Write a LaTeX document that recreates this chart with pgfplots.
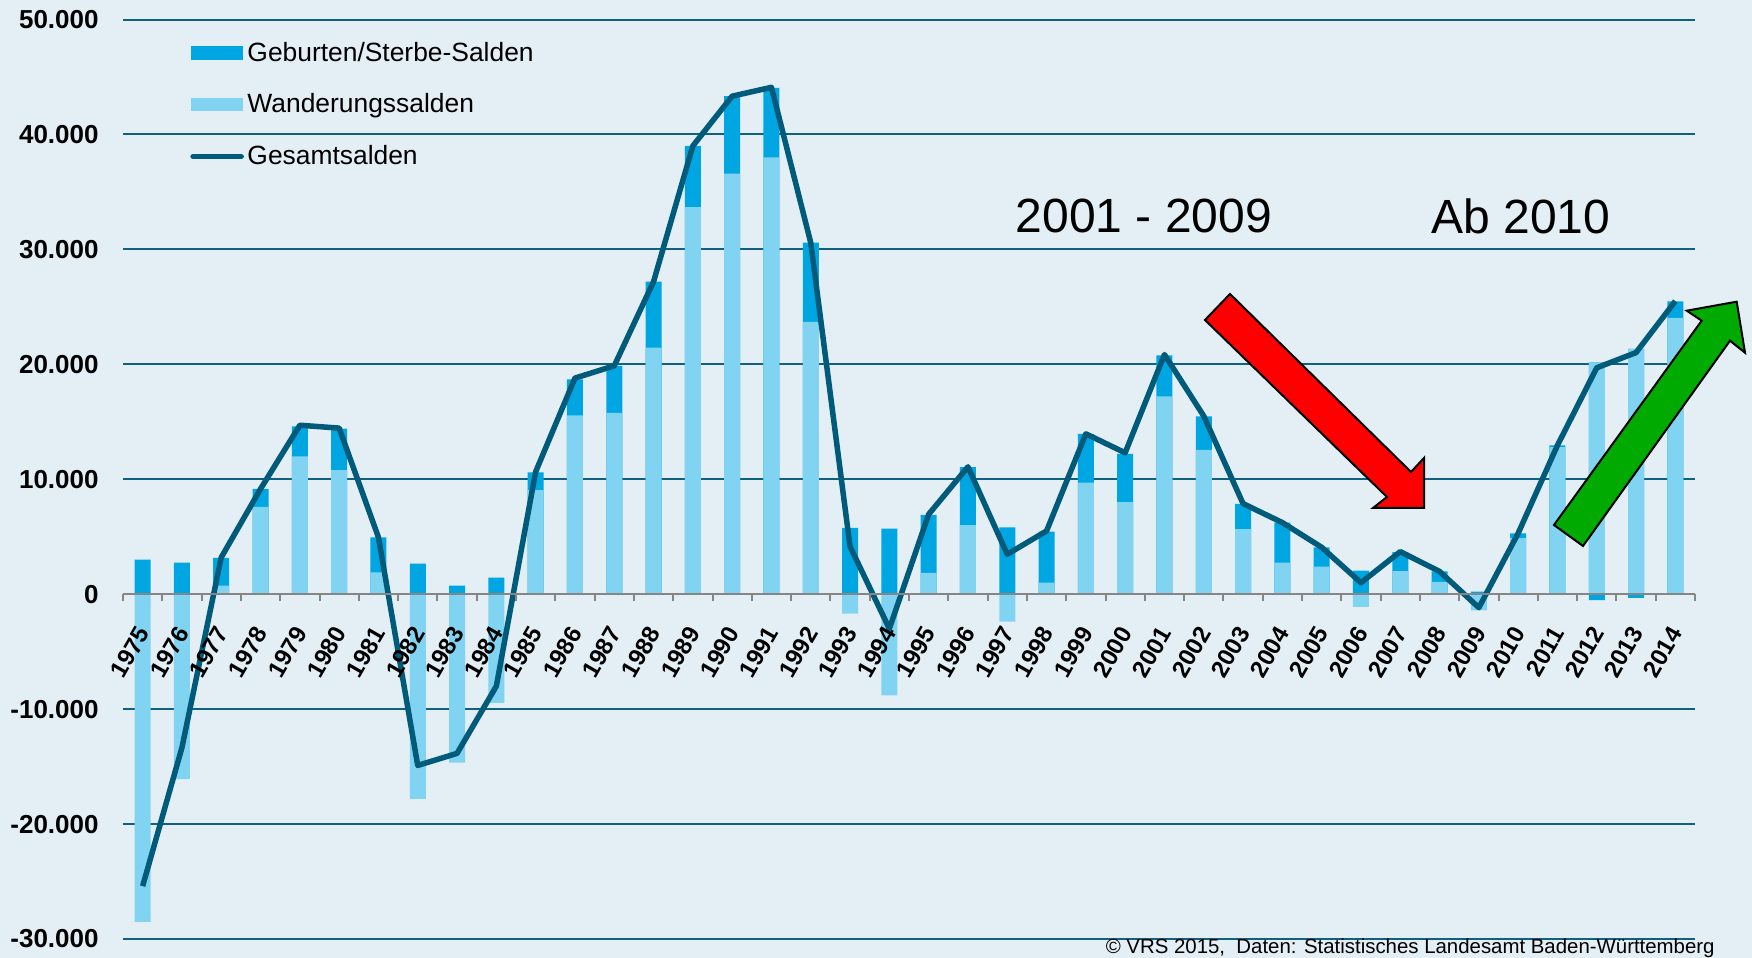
\documentclass[border=0pt]{standalone}
\usepackage{fontspec}
\setmainfont{Liberation Sans}
\usepackage{pgfplots}
\usepackage{pgfplotstable}
\pgfplotsset{compat=1.18}
\definecolor{bg}{RGB}{228,238,245}
\definecolor{gridc}{RGB}{16,96,128}
\definecolor{darkb}{RGB}{0,166,226}
\definecolor{lightb}{RGB}{128,212,242}
\definecolor{tot}{RGB}{0,90,122}
\definecolor{axgray}{RGB}{134,134,134}
\definecolor{arrgreen}{RGB}{0,170,0}

\pgfplotsset{
  layers/mylayers/.define layer set={axis background,axis grid,main,axis ticks,axis lines,axis tick labels,axis descriptions,axis foreground}{
    grid style={/pgfplots/on layer=axis grid},
    tick style={/pgfplots/on layer=axis ticks},
    axis line style={/pgfplots/on layer=axis lines},
    label style={/pgfplots/on layer=axis descriptions},
    legend style={/pgfplots/on layer=axis descriptions},
    title style={/pgfplots/on layer=axis descriptions},
    colorbar style={/pgfplots/on layer=axis descriptions},
    ticklabel style={/pgfplots/on layer=axis tick labels},
    axis background@ style={/pgfplots/on layer=axis background},
  },
}

\pgfplotstableread{
i year W G T
0 1975 -28500 3000 -25400
1 1976 -16100 2750 -13350
2 1977 750 2400 3200
3 1978 7600 1560 9160
4 1979 12000 2600 14700
5 1980 10800 3600 14450
6 1981 1900 3050 4950
7 1982 -17800 2650 -14900
8 1983 -14650 750 -13850
9 1984 -9450 1450 -8000
10 1985 9050 1550 10650
11 1986 15550 3150 18800
12 1987 15770 4100 19870
13 1988 21460 5730 27190
14 1989 33680 5320 39000
15 1990 36600 6730 43330
16 1991 38000 6060 44100
17 1992 23690 6890 30580
18 1993 -1700 5760 4150
19 1994 -8800 5700 -3000
20 1995 1860 5030 6950
21 1996 6000 5050 11080
22 1997 -2380 5810 3470
23 1998 1000 4450 5500
24 1999 9710 4240 13950
25 2000 8000 4210 12300
26 2001 17210 3570 20850
27 2002 12560 2910 15500
28 2003 5670 2180 7880
29 2004 2740 3490 6230
30 2005 2390 1690 4080
31 2006 -1110 2040 1000
32 2007 2010 1660 3700
33 2008 1080 900 1980
34 2009 -1400 230 -1170
35 2010 4870 430 5300
36 2011 12800 150 12950
37 2012 20170 -520 19700
38 2013 21340 -320 21020
39 2014 24050 1430 25500
}\data

\begin{document}%
\pagecolor{bg}%
\begin{tikzpicture}
\begin{axis}[
  set layers=mylayers,
  at={(0,0)}, anchor=south west,
  scale only axis, width=786pt, height=459.75pt,
  xmin=-0.5, xmax=39.5, ymin=-30000, ymax=50000,
  axis x line*=middle, axis y line*=left,
  y axis line style={draw=none},
  x axis line style={draw=axgray, line width=1pt},
  ytick={-30000,-20000,...,50000},
  ymajorgrids,
  grid style={draw=gridc, line width=1pt},
  major y tick style={draw=none},
  scaled y ticks=false,
  /pgf/number format/1000 sep={.},
  /pgf/number format/assume math mode=true,
  yticklabel style={font=\bfseries\fontsize{13}{13}\selectfont, inner sep=0pt, xshift=-12pt},
  xtick={0,...,39},
  xticklabels={1975,1976,1977,1978,1979,1980,1981,1982,1983,1984,1985,1986,1987,1988,1989,1990,1991,1992,1993,1994,1995,1996,1997,1998,1999,2000,2001,2002,2003,2004,2005,2006,2007,2008,2009,2010,2011,2012,2013,2014},
  xticklabel style={xshift=0.5pt, yshift=-13pt, font=\bfseries\fontsize{12}{12}\selectfont, rotate=60, anchor=east, inner sep=0pt},
  major x tick style={draw=none},
  minor xtick={-0.5,0.5,...,39.5},
  minor x tick style={draw=axgray, line width=1pt},
  xtick align=outside,
  minor tick length=3.5pt,
  legend cell align=left,
  legend style={at={(0.0426,0.980)}, anchor=north west, draw=none, fill=none,
    inner sep=0pt, row sep=11.2pt,
    font=\fontsize{13.2}{13.2}\selectfont,
    nodes={inner sep=1.8pt}},
]
\addplot[ybar, bar width=8pt, bar shift=0pt, fill=darkb, draw=none,
  legend image code/.code={\fill[darkb] (0pt,-3.4pt) rectangle (25.7pt,3.4pt);}]
  table[x=i, y expr={max(\thisrow{W},0)+max(\thisrow{G},0)}] {\data};
\addlegendentry{Geburten/Sterbe-Salden}
\addplot[ybar, bar width=8pt, bar shift=0pt, fill=lightb, draw=none,
  legend image code/.code={\fill[lightb] (0pt,-3.4pt) rectangle (25.7pt,3.4pt);}]
  table[x=i, y expr={max(\thisrow{W},0)}] {\data};
\addlegendentry{Wanderungssalden}
\addplot[ybar, bar width=8pt, bar shift=0pt, fill=lightb, draw=none, forget plot]
  table[x=i, y expr={min(\thisrow{W},0)}] {\data};
\addplot[ybar, bar width=8pt, bar shift=0pt, fill=darkb, draw=none, forget plot]
  table[x=i, y expr={min(\thisrow{G},0)}] {\data};
\addplot[sharp plot, mark=none, draw=tot, line width=2.75pt, line join=round,
  legend image code/.code={\draw[tot, line width=2.75pt, line cap=round] (1pt,0pt) -- (25pt,0pt);}]
  table[x=i, y=T] {\data};
\addlegendentry{Gesamtsalden}
\end{axis}
\begin{scope}[shift={(-61.5pt,469.5pt)}, x=0.5pt, y=-0.5pt]
\filldraw[fill=red, draw=black, line width=1pt, line join=miter]
  (1230,294) -- (1411,472) -- (1424,458) -- (1424,508) -- (1373,508) -- (1387,497) -- (1205,320) -- cycle;
\filldraw[fill=arrgreen, draw=black, line width=1pt, line join=miter]
  (1554,525) -- (1701.7,320.7) -- (1686.7,310.7) -- (1736.7,301.7) -- (1745,352.7) -- (1730,340.7) -- (1583,546) -- cycle;
\node[font=\fontsize{24}{24}\selectfont, inner sep=0pt] at (1144,216) {2001 - 2009};
\node[font=\fontsize{24}{24}\selectfont, inner sep=0pt] at (1521,216) {Ab 2010};
\node[anchor=east, font=\fontsize{10.2}{10.2}\selectfont, inner sep=0pt] at (1715,948) {© VRS 2015,\ \ Daten: Statistisches Landesamt Baden-Württemberg};
\pgfresetboundingbox
\useasboundingbox (0,0) rectangle (1752,958);
\end{scope}
\end{tikzpicture}%
\end{document}
